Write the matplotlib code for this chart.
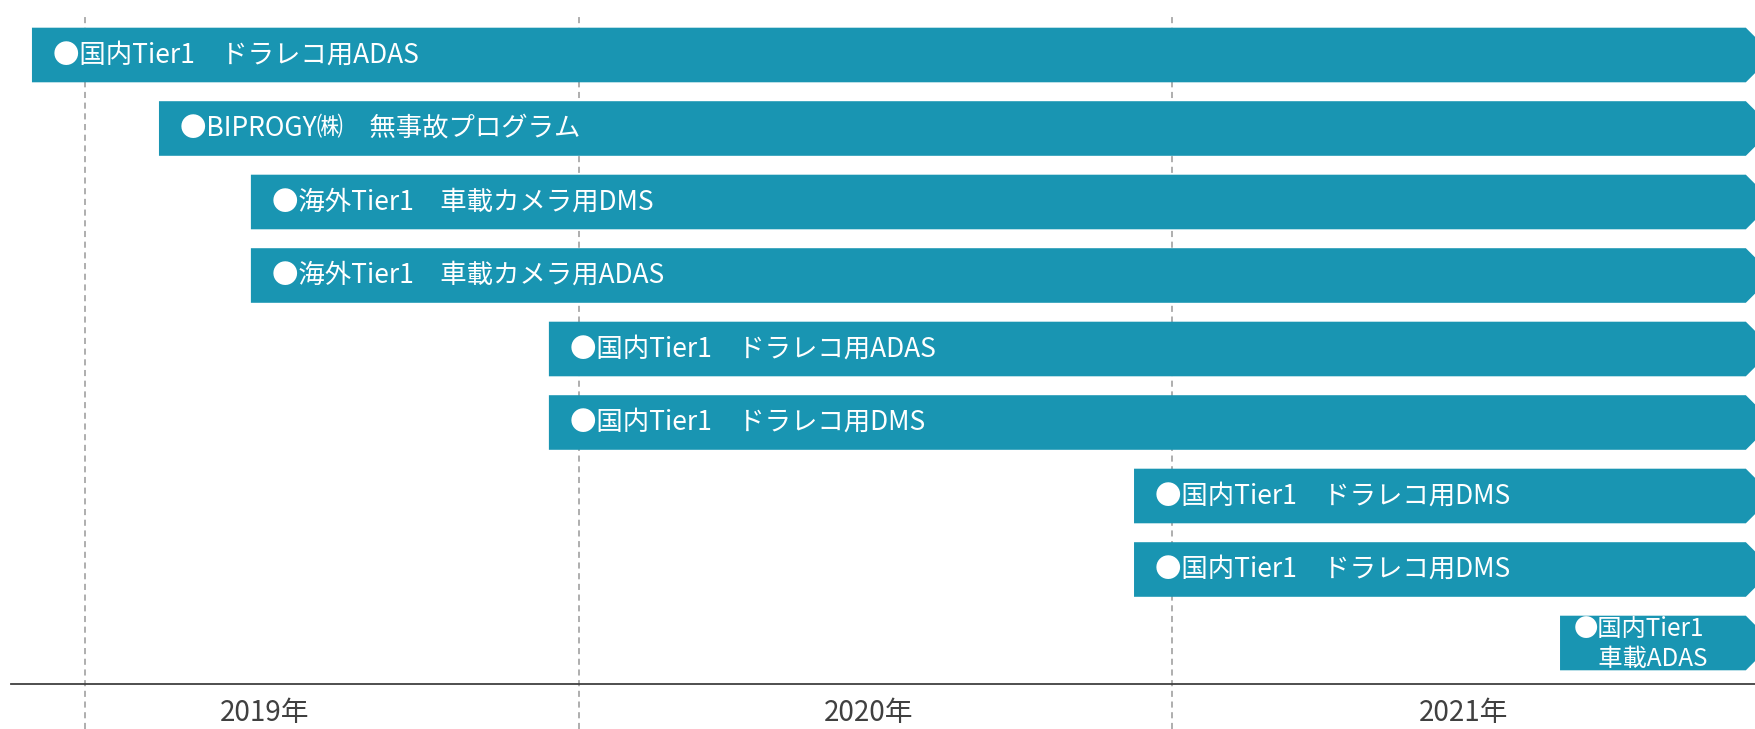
import matplotlib
matplotlib.use("Agg")
import matplotlib.pyplot as plt
from matplotlib.patches import Polygon

plt.rcParams['font.family'] = ['Noto Sans CJK JP', 'DejaVu Sans']

# ---- data (months since Jan 2019) ----
labels = [
    "●国内Tier1　ドラレコ用ADAS",
    "●BIPROGY㈱　無事故プログラム",
    "●海外Tier1　車載カメラ用DMS",
    "●海外Tier1　車載カメラ用ADAS",
    "●国内Tier1　ドラレコ用ADAS",
    "●国内Tier1　ドラレコ用DMS",
    "●国内Tier1　ドラレコ用DMS",
    "●国内Tier1　ドラレコ用DMS",
    "●国内Tier1\n　車載ADAS",
]
starts = [0.93, 3.50, 5.36, 5.36, 11.39, 11.39, 23.23, 23.23, 31.85]
ends = [35.61] * 9
year_ticks = [5.63, 17.85, 29.89]
year_labels = ["2019年", "2020年", "2021年"]
grid_months = [2.0, 12.0, 24.0]

# ---- layout ----
W, H, DPI = 1756, 729, 100
PPM = 49.42          # pixels per month
ORIGIN = -14.0       # pixel of month 0
ROW0, ROWSTEP = 55.0, 73.5   # pixel centre of first row, row pitch
AX_LEFT, AX_BOTTOM = 11, 684
BAR_HALF_PX = 27.3
COLOR = "#1995B2"

fig = plt.figure(figsize=(W / DPI, H / DPI), dpi=DPI)
ax = fig.add_axes([AX_LEFT / W, (H - AX_BOTTOM) / H, (W - AX_LEFT) / W, AX_BOTTOM / H])
ax.set_xlim((AX_LEFT - ORIGIN) / PPM, (W - ORIGIN) / PPM)
ax.set_ylim((AX_BOTTOM - ROW0) / ROWSTEP, (0 - ROW0) / ROWSTEP)

for s in ["top", "right", "left"]:
    ax.spines[s].set_visible(False)
ax.spines["bottom"].set_color("#404040")
ax.spines["bottom"].set_linewidth(1.3)
ax.set_yticks([])
ax.set_xticks(year_ticks)
ax.set_xticklabels(year_labels, fontsize=20, color="#404040")
ax.tick_params(axis="x", length=0, pad=10)

# dashed year guides
top_frac = (AX_BOTTOM - 13) / AX_BOTTOM
bot_frac = -(H - AX_BOTTOM) / AX_BOTTOM
for g in grid_months:
    ax.axvline(g, ymin=bot_frac, ymax=top_frac, color="#999999", lw=1.1,
               ls=(0, (4, 3)), zorder=1, clip_on=False)

h = BAR_HALF_PX / ROWSTEP
dx = BAR_HALF_PX / PPM
txt_off = 21 / PPM
for i, (lab, s, e) in enumerate(zip(labels, starts, ends)):
    poly = Polygon([(s, i - h), (e, i - h), (e + dx, i), (e, i + h), (s, i + h)],
                   closed=True, facecolor=COLOR, edgecolor="none", zorder=2)
    ax.add_patch(poly)
    if "\n" in lab:
        lines = lab.split("\n")
        offs = [-14.5 / ROWSTEP, 16.5 / ROWSTEP]
        for ln, o in zip(lines, offs):
            ax.text(s + 14 / PPM, i + o, ln, color="white", fontsize=17.5,
                    va="center", ha="left", zorder=3)
    else:
        ax.text(s + txt_off, i, lab, color="white", fontsize=19,
                va="center", ha="left", zorder=3)

fig.savefig("out.png", dpi=DPI)
